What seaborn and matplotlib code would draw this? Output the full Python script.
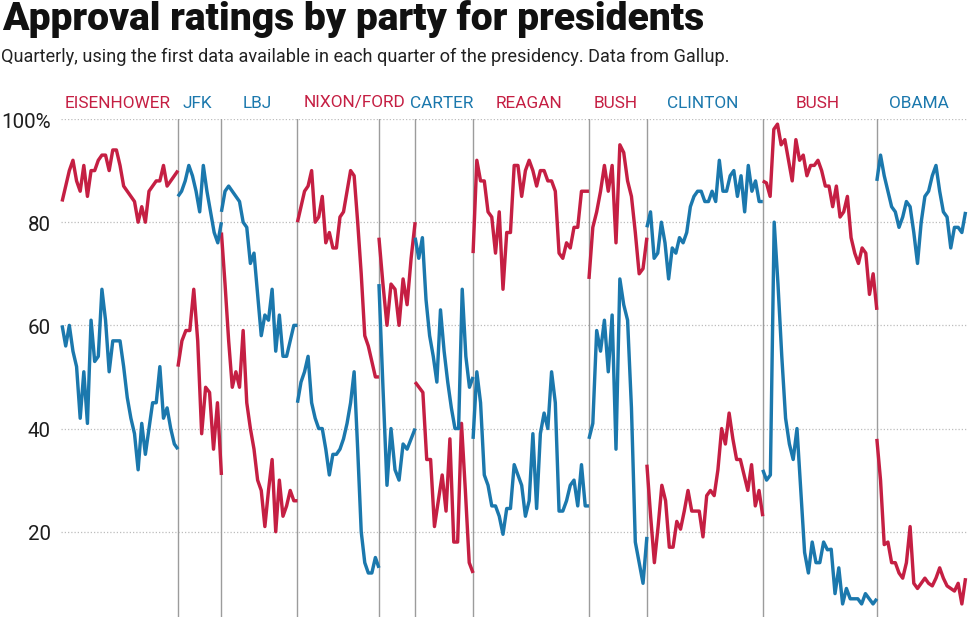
import numpy as np
import pandas as pd
import matplotlib
matplotlib.use("Agg")
import matplotlib.pyplot as plt
import matplotlib.transforms as mtransforms
import seaborn as sns

# ---------------- data ----------------
segment_names = ["Eisenhower", "Kennedy", "Johnson", "Nixon", "Ford", "Carter",
                 "Reagan", "Bush41", "Clinton", "Bush43", "Obama"]
segment_quarters = [32, 12, 21, 22.5, 10, 16, 32, 16, 32, 31.5, 24.5]

rep_eisenhower = [84, 87, 90, 92, 88, 86, 91, 85, 90, 90, 92, 93, 93, 90, 94, 94, 91,
                  87, 86, 85, 84, 80, 83, 80, 86, 87, 88, 88, 91, 87, 88, 89, 90]
dem_eisenhower = [60, 56, 60, 55, 52, 42, 51, 41, 61, 53, 54, 67, 61, 51, 57, 57, 57,
                  52, 46, 42, 39, 32, 41, 35, 40, 45, 45, 52, 42, 44, 40, 37, 36]
rep_kennedy = [52, 57, 59, 59, 67, 57, 39, 48, 47, 36, 45, 31]
dem_kennedy = [85, 86, 88, 91, 89, 86, 82, 91, 86, 82, 78, 76, 80]
rep_johnson = [78, 68, 57, 48, 51, 48, 59, 45, 40, 36, 30, 28, 21, 28, 34, 20, 30,
               23, 25, 28, 26, 26]
dem_johnson = [82, 86, 87, 86, 85, 84, 80, 79, 72, 74, 66, 58, 62, 61, 67, 55, 62,
               54, 54, 57, 60, 60]
rep_nixon = [80, 83, 86, 87, 90, 80, 81, 85, 76, 78, 75, 75, 81, 82, 86, 90, 89, 80,
             70, 58, 56, 53, 50, 50]
dem_nixon = [45, 49, 51, 54, 45, 42, 40, 40, 36, 31, 35, 35, 36, 38, 41, 45, 51, 36,
             20, 14, 12, 12, 15, 13]
rep_ford = [77, 68, 60, 68, 67, 60, 69, 64, 73, 80]
dem_ford = [68, 48, 29, 40, 32, 30, 37, 36, 38, 40]
rep_carter = [49, 48, 47, 34, 34, 21, 26, 31, 24, 38, 18, 18, 41, 28, 14, 12]
dem_carter = [77, 73, 77, 65, 58, 54, 49, 63, 55, 49, 44, 40, 40, 67, 54, 48, 50]
rep_reagan = [74, 92, 88, 88, 82, 81, 74, 82, 67, 78, 78, 91, 91, 85, 90, 92, 90, 87,
              90, 90, 88, 88, 86, 74, 73, 76, 75, 79, 79, 86, 86, 86]
dem_reagan = [38, 51, 45, 31, 29, 25, 25, 23, 19.5, 24.5, 24.5, 33, 31, 29, 23, 26, 39,
              24.5, 39, 43, 40, 51, 45, 24, 24, 26, 29, 30, 25, 33, 25, 25]
rep_bush41 = [69, 79, 82, 86, 91, 86, 91, 76, 95, 93.5, 88, 85, 78, 70, 71, 77]
dem_bush41 = [38, 41, 59, 55, 61, 51, 62, 36, 69, 64, 61, 44, 18, 14, 10, 19]
rep_clinton = [33, 23, 14, 21, 29, 26, 17, 17, 22, 20.5, 24, 28, 24, 24, 24, 19, 27,
               28, 27, 32, 40, 37, 43, 38, 34, 34, 31, 28, 33, 25, 28, 23]
dem_clinton = [79, 82, 73, 74, 80, 76, 69, 75, 74, 77, 76, 78, 83, 85, 86, 86, 84, 84,
               86, 84, 92, 86, 86, 89, 90, 85, 89, 82, 91, 86, 88, 84, 84]
rep_bush43 = [88, 87.6, 85, 98, 99, 95, 96, 92, 88, 96, 92, 93, 89, 91, 91, 92, 90, 87,
              87, 83, 87, 81, 82, 85, 77, 74, 72, 75, 74, 66, 70, 63]
dem_bush43 = [32, 30, 31, 80, 68, 54, 42, 37, 34, 40, 28, 16, 12, 18, 14, 14, 18, 16.5,
              16.6, 8, 13, 6, 9, 7, 7, 7, 6, 8, 7, 6, 7]
rep_obama = [38, 30, 17.5, 18, 14, 14, 12, 11, 14, 21, 10, 9, 10, 11, 10, 9.5, 11, 13,
             11, 9.5, 9, 8.5, 10, 6, 11]
dem_obama = [88, 93, 89, 86, 83, 82, 79, 81, 84, 83, 78, 72, 80, 85, 86, 89, 91, 86,
             82, 81, 75, 79, 79, 78, 82]

rep_series = [rep_eisenhower, rep_kennedy, rep_johnson, rep_nixon, rep_ford, rep_carter,
              rep_reagan, rep_bush41, rep_clinton, rep_bush43, rep_obama]
dem_series = [dem_eisenhower, dem_kennedy, dem_johnson, dem_nixon, dem_ford, dem_carter,
              dem_reagan, dem_bush41, dem_clinton, dem_bush43, dem_obama]

header_labels = ["EISENHOWER", "JFK", "LBJ", "NIXON/FORD", "CARTER", "REAGAN",
                 "BUSH", "CLINTON", "BUSH", "OBAMA"]
header_spans = [1, 1, 1, 2, 1, 1, 1, 1, 1, 1]
header_party = ["R", "D", "D", "R", "D", "R", "R", "D", "R", "D"]

y_ticks = [20, 40, 60, 80, 100]
y_tick_labels = ["20", "40", "60", "80", "100%"]

title = "Approval ratings by party for presidents"
subtitle = ("Quarterly, using the first data available in each quarter of the "
            "presidency. Data from Gallup.")

# ---------------- build table ----------------
bounds = np.concatenate([[0], np.cumsum(segment_quarters)])
rows = []
for i, name in enumerate(segment_names):
    for party, vals in (("Republicans", rep_series[i]), ("Democrats", dem_series[i])):
        xs = np.linspace(bounds[i], bounds[i + 1], len(vals))
        for x, v in zip(xs, vals):
            rows.append({"quarter": x, "approval": v, "party": party,
                         "segment": f"{name}-{party}"})
df = pd.DataFrame(rows)

# ---------------- style ----------------
sns.set_theme(style="white")
plt.rcParams["font.family"] = ["Roboto", "DejaVu Sans"]

RED = "#c51f43"
BLUE = "#1b78ad"
party_color = {"R": RED, "D": BLUE}

W, H, DPI = 977, 617, 100
fig = plt.figure(figsize=(W / DPI, H / DPI), dpi=DPI)
fig.patch.set_facecolor("white")
ax_left, ax_right, ax_top = 61 / W, 967 / W, 1 - 119 / H
ax = fig.add_axes([ax_left, 0, ax_right - ax_left, ax_top])

sns.lineplot(data=df, x="quarter", y="approval", hue="party", units="segment",
             estimator=None, sort=False, legend=False, ax=ax,
             palette={"Republicans": RED, "Democrats": BLUE}, linewidth=2.45)
for ln in ax.lines:
    ln.set_clip_on(False)
    ln.set_solid_joinstyle("round")
    ln.set_solid_capstyle("butt")
    ln.set_zorder(3)

for b in bounds[1:-1]:
    ax.axvline(b, color="#9c9c9c", lw=1.0, zorder=1)

ax.set_xlim(-0.3, bounds[-1] + 0.4)
ax.set_ylim(3.47, 100)
ax.set_yticks(y_ticks)
ax.set_yticklabels(y_tick_labels)
ax.set_xticks([])
ax.set_xlabel("")
ax.set_ylabel("")
ax.yaxis.grid(True, color="#bdbdbd", lw=0.9, linestyle=(0, (1, 1.6)), zorder=0)
ax.xaxis.grid(False)
for s in ax.spines.values():
    s.set_visible(False)
ax.tick_params(axis="y", length=0, pad=7.5, labelsize=14.8, labelcolor="#1e1e1e")
shift = mtransforms.ScaledTranslation(0, -3.0 / DPI, fig.dpi_scale_trans)
for t in ax.get_yticklabels():
    t.set_va("center")
    t.set_transform(t.get_transform() + shift)
ax.set_facecolor("white")

# header labels over the segments
trans = mtransforms.blended_transform_factory(ax.transData, fig.transFigure)
seg = 0
for lab, span, party in zip(header_labels, header_spans, header_party):
    cx = (bounds[seg] + bounds[seg + span]) / 2
    ax.text(cx - 0.6, 1 - 107.5 / H, lab, transform=trans, ha="center", va="baseline",
            fontsize=12.4, color=party_color[party], clip_on=False)
    seg += span

# title and subtitle, fitted to the reference widths
def fit(txt, target_px):
    fig.canvas.draw()
    w = txt.get_window_extent().width
    txt.set_fontsize(txt.get_fontsize() * target_px / w)

t1 = fig.text(2 / W, 1 - 30 / H, title, ha="left", va="baseline",
              fontsize=22, fontweight="heavy", color="#111111")
t2 = fig.text(1 / W, 1 - 62.5 / H, subtitle, ha="left", va="baseline",
              fontsize=13, color="#222222")
fit(t1, 701)
fit(t2, 728)

fig.savefig("out.png", dpi=DPI, facecolor="white")
